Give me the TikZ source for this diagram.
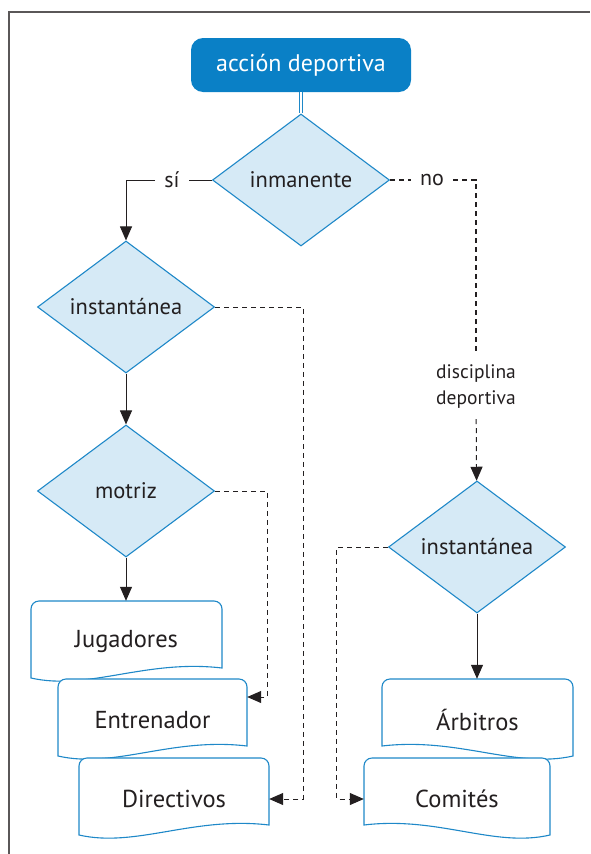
\documentclass[tikz,border=0pt]{standalone}
\usepackage{fontspec}
\setmainfont{PT Sans}
\usetikzlibrary{shapes.geometric,arrows.meta}

\definecolor{boxblue}{HTML}{0A80C6}
\definecolor{lineblue}{HTML}{1E88C8}
\definecolor{diafill}{HTML}{D6EAF6}
\definecolor{ink}{HTML}{231F20}

\tikzset{
  topbox/.style={rectangle, rounded corners=12pt, fill=boxblue, text=white,
    minimum width=220pt, minimum height=54pt, font=\fontsize{24}{28}\selectfont},
  decision/.style={diamond, draw=lineblue, fill=diafill, line width=1.1pt,
    minimum width=177pt, minimum height=132pt, inner sep=0pt, text=ink,
    font=\fontsize{22.5}{26}\selectfont},
  docline/.style={draw=lineblue, fill=white, line width=1.1pt},
  doctext/.style={minimum height=82pt, inner sep=0pt, text=ink,
    font=\fontsize{24.5}{28}\selectfont},
  lbl/.style={inner xsep=9pt, inner ysep=4pt, text=ink, font=\fontsize{22}{26}\selectfont},
  arr/.style={-{Triangle[length=14pt,width=12pt]}, line width=1pt, draw=ink},
  solidline/.style={line width=1pt, draw=ink},
  dashline/.style={dash pattern=on 5pt off 4pt, line width=1.1pt, draw=ink},
  dbl/.style={draw=lineblue, double=white, double distance=2pt, line width=1pt},
  frame/.style={draw=ink!75, line width=1.6pt}
}

% wavy box: name, centre x, top y, half width, mirror, text
\newcommand{\docnode}[6]{%
  \draw[docline,shift={(#2,#3)},xscale=#5] (#4,67) .. controls (0.2*#4,58) and (-0.4*#4,90) .. (-#4,77)
    [rounded corners=8pt] -- (-#4,0) -- (#4,0) -- (#4,30) [sharp corners] -- cycle;
  \node[doctext,minimum width=2*#4] (#1) at (#2,#3+41) {#6};
}

\begin{document}
\begin{tikzpicture}[x=1pt,y=-1pt] % 590 x 854
   \useasboundingbox (0,0) rectangle (590,854);
   \draw[frame] (9,854) -- (9,12) -- (590,12);

   \node[topbox] (acc) at (301,65) {acción deportiva};
   \node[decision] (inm) at (301,180) {inmanente};
   \node[decision] (inst1) at (126,307) {instantánea};
   \node[decision] (mot) at (126,491) {motriz};
   \node[decision] (inst2) at (477,547) {instantánea};

   \node[lbl] (si) at (172,180) {sí};
   \node[lbl] (no) at (432,180) {no};
   \node[lbl, align=center, inner ysep=10pt, font=\fontsize{19.5}{26}\selectfont] (disc) at (476,387) {disciplina\\deportiva};

   \docnode{jug}{126.5}{601}{95.5}{1}{Jugadores}
   \docnode{entr}{152.5}{679}{94.5}{1}{Entrenador}
   \docnode{dir}{174}{758}{95}{1}{Directivos}
   \docnode{arb}{477.5}{679}{95.5}{-1}{Árbitros}
   \docnode{com}{457}{758}{93}{-1}{Comités}

   \draw[dbl] (acc) -- (inm);
   \draw[solidline] (inm.west) -- (si);
   \draw[arr] (si) -| (inst1);
   \draw[dashline] (inm.east) -- (no);
   \draw[dashline] (no) -| (disc);
   \draw[dashline,arr] (disc) -- (inst2);

   \draw[arr] (inst1) -- (mot);
   \draw[arr] (mot) -- (mot |- jug.north);
   \draw[arr] (inst2) -- (inst2 |- arb.north);
   \draw[dashline,arr] (mot.east) -| ([xshift=20pt,yshift=23pt]entr.east) -- ([yshift=23pt]entr.east);
   \draw[dashline,arr] (inst1.east) -| ([xshift=34pt]dir.east) -- (dir.east);
   \draw[dashline,arr] (inst2.west) -| ([xshift=-27pt]com.west) -- (com.west);
\end{tikzpicture}
\end{document}
